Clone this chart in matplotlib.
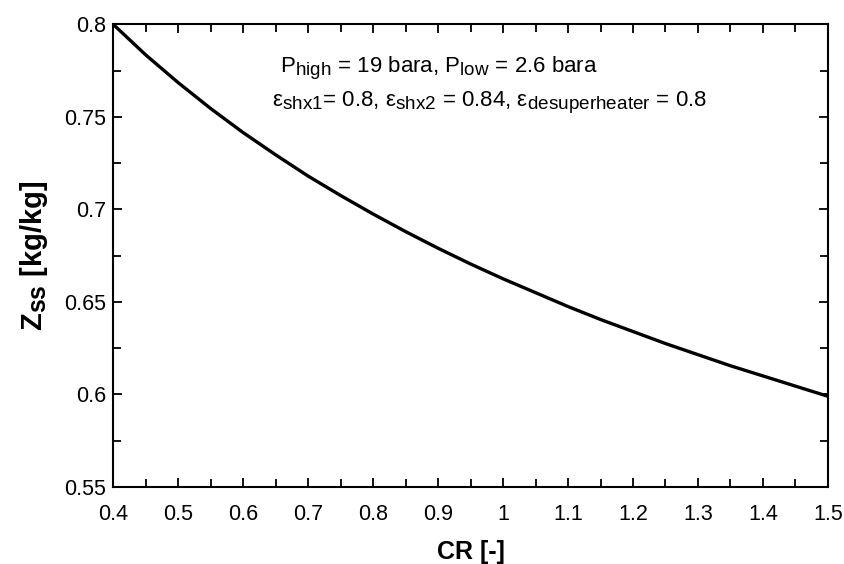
import matplotlib
matplotlib.use("Agg")
import matplotlib.pyplot as plt
from matplotlib.ticker import MultipleLocator
import matplotlib._mathtext as mt

plt.rcParams['font.family'] = ['Liberation Sans', 'DejaVu Sans']
plt.rcParams['mathtext.fontset'] = 'custom'
plt.rcParams['mathtext.rm'] = 'Liberation Sans'
plt.rcParams['mathtext.it'] = 'Liberation Sans'
plt.rcParams['mathtext.bf'] = 'Liberation Sans:bold'
# the original subscripts are only a little smaller than the main text
mt.SHRINK_FACTOR = 0.85

# values
cr = [0.40, 0.45, 0.50, 0.55, 0.60, 0.65, 0.70, 0.75, 0.80, 0.85, 0.90, 0.95,
      1.00, 1.05, 1.10, 1.15, 1.20, 1.25, 1.30, 1.35, 1.40, 1.45, 1.50]
z_ss = [0.800, 0.7835, 0.7685, 0.7545, 0.7415, 0.7295, 0.718, 0.7075, 0.6975, 0.688, 0.679, 0.6705,
        0.6625, 0.655, 0.6475, 0.6405, 0.634, 0.6275, 0.6215, 0.6155, 0.610, 0.6045, 0.599]

x_ticks = [0.4, 0.5, 0.6, 0.7, 0.8, 0.9, 1, 1.1, 1.2, 1.3, 1.4, 1.5]
x_tick_labels = ['0.4', '0.5', '0.6', '0.7', '0.8', '0.9', '1', '1.1', '1.2', '1.3', '1.4', '1.5']
y_ticks = [0.55, 0.6, 0.65, 0.7, 0.75, 0.8]
y_tick_labels = ['0.55', '0.6', '0.65', '0.7', '0.75', '0.8']

fig = plt.figure(figsize=(8.44, 5.64), dpi=100)
ax = fig.add_axes([0.134, 0.1365, 0.847, 0.8205])

ax.plot(cr, z_ss, color='black', lw=2.4, solid_joinstyle='round')

ax.set_xlim(0.4, 1.5)
ax.set_ylim(0.55, 0.8)
ax.set_xticks(x_ticks)
ax.set_xticklabels(x_tick_labels)
ax.set_yticks(y_ticks)
ax.set_yticklabels(y_tick_labels)
ax.xaxis.set_minor_locator(MultipleLocator(0.05))
ax.yaxis.set_minor_locator(MultipleLocator(0.025))

ax.tick_params(which='both', direction='in', top=True, right=True, width=1.3)
ax.tick_params(which='major', length=6.5, labelsize=15.5)
ax.tick_params(axis='x', which='major', pad=12)
ax.tick_params(axis='y', which='major', pad=5)
ax.tick_params(which='minor', length=5.5)
for s in ax.spines.values():
    s.set_linewidth(1.5)

ax.set_xlabel('CR [-]', fontsize=18, fontweight='bold', labelpad=11)
ax.set_ylabel(r'Z$_{\mathbf{ss}}$ [kg/kg]', fontsize=21, fontweight='bold', labelpad=10)

ax.text(0.2336, 0.895, r'P$_{\mathrm{high}}$ = 19 bara, P$_{\mathrm{low}}$ = 2.6 bara',
        transform=ax.transAxes, fontsize=16)
ax.text(0.222, 0.823, r'ε$_{\mathrm{shx1}}$= 0.8, ε$_{\mathrm{shx2}}$ = 0.84, ε$_{\mathrm{desuperheater}}$ = 0.8',
        transform=ax.transAxes, fontsize=16)

fig.savefig('out.png', dpi=100)
